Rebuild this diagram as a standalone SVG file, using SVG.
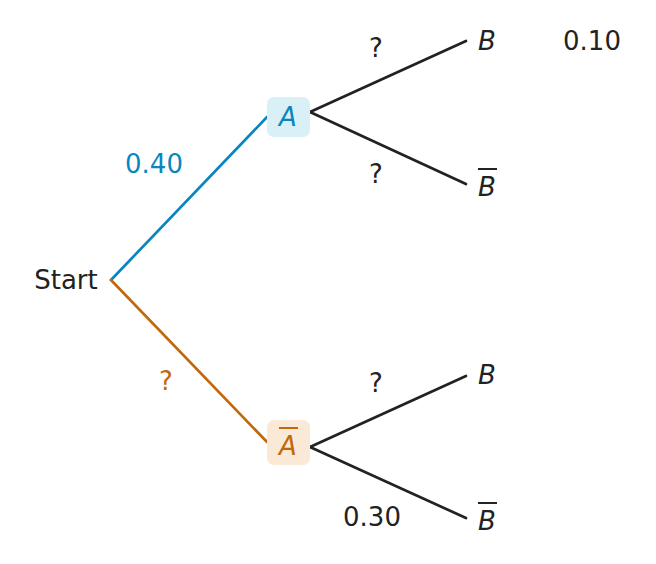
<svg xmlns="http://www.w3.org/2000/svg" width="656" height="564" viewBox="0 0 656 564">
<style>
text{font-family:"DejaVu Sans","Liberation Sans",sans-serif;font-size:26px;fill:#222;dominant-baseline:central;text-anchor:middle}
.v{font-style:italic}
.e{stroke-width:2.7;fill:none;stroke-linecap:round}
.k{stroke:#222}
.blue{fill:#0a86bf}
.org{fill:#c0690a}
.ol{stroke-width:2}
</style>
<rect width="656" height="564" fill="#fff"/>
<g id="connectors">
<line class="e" stroke="#0a86bf" x1="111" y1="280" x2="267" y2="117"/>
<line class="e" stroke="#c0690a" x1="111" y1="280" x2="267" y2="442"/>
<line class="e k" x1="310" y1="112" x2="466" y2="41"/>
<line class="e k" x1="310" y1="112" x2="466" y2="184"/>
<line class="e k" x1="310" y1="447" x2="466" y2="376"/>
<line class="e k" x1="310" y1="447" x2="466" y2="518"/>
<text x="154" y="164" class="blue">0.40</text>
<text x="166" y="381" class="org">?</text>
<text x="376" y="48">?</text>
<text x="376" y="174">?</text>
<text x="376" y="383">?</text>
<text x="372" y="517">0.30</text>
</g>
<g id="start"><text x="66" y="280">Start</text></g>
<g id="nodeA">
<rect x="267" y="97" width="43" height="40" rx="7" fill="#d9f0f7"/>
<text x="288" y="117" class="v blue">A</text>
</g>
<g id="nodeAbar">
<rect x="267" y="420" width="43" height="45" rx="7" fill="#fbe9d7"/>
<text x="288" y="446" class="v org">A</text>
<line class="ol" stroke="#c0690a" x1="279" y1="428" x2="298" y2="428"/>
</g>
<g id="nodeAB"><text x="487" y="41" class="v">B</text><text x="592" y="41">0.10</text></g>
<g id="nodeABbar"><text x="487" y="187" class="v">B</text><line class="ol" stroke="#222" x1="478" y1="169" x2="497" y2="169"/></g>
<g id="nodeAbarB"><text x="487" y="375" class="v">B</text></g>
<g id="nodeAbarBbar"><text x="487" y="521" class="v">B</text><line class="ol" stroke="#222" x1="478" y1="503" x2="497" y2="503"/></g>
</svg>
